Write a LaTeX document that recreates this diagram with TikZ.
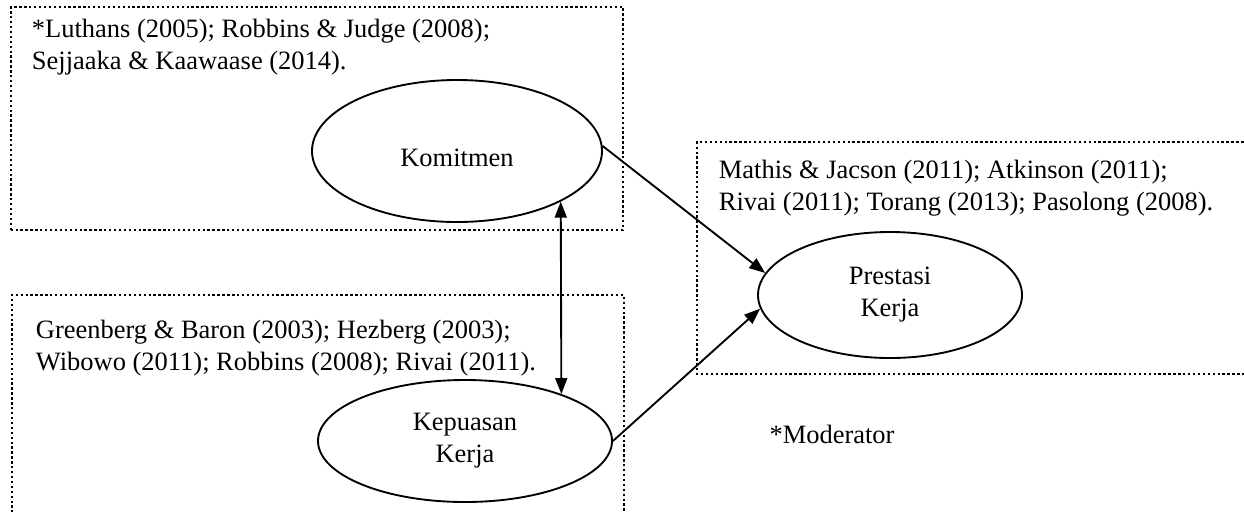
\documentclass[tikz,border=0pt]{standalone}
\usepackage{fontspec}
\setmainfont{Liberation Serif}
\usetikzlibrary{arrows.meta, shapes.geometric}

\begin{document}
\begin{tikzpicture}[>={Triangle[length=2.4mm, width=1.8mm]}, line width=0.8pt,
  font=\fontsize{11.3pt}{13.66pt}\selectfont,
  var/.style={ellipse, draw, align=center, inner sep=0pt},
  teks/.style={anchor=west, align=left, inner sep=0pt},
  kotak/.style={line width=1pt, dash pattern=on 1pt off 1.1pt}]
  \useasboundingbox (0,0) rectangle (18.66,7.665);
  % kotak bertitik
  \draw[kotak] (0.165,4.215) rectangle (9.345,7.56);
  \draw[kotak] (18.8,5.535) -- (10.455,5.535) -- (10.455,2.055) -- (18.8,2.055);
  \draw[kotak] (0.18,-0.1) -- (0.18,3.24) -- (9.36,3.24) -- (9.36,-0.1);
  % rujukan
  \node[teks] (refKom) at (0.465,6.96) {*Luthans (2005); Robbins \& Judge (2008);\\Sejjaaka \& Kaawaase (2014).};
  \node[teks] (refPres) at (10.77,4.84) {Mathis \& Jacson (2011); Atkinson (2011);\\Rivai (2011); Torang (2013); Pasolong (2008).};
  \node[teks] (refKep) at (0.525,2.44) {Greenberg \& Baron (2003); Hezberg (2003);\\Wibowo (2011); Robbins (2008); Rivai (2011).};
  % variabel
  \node[var, minimum width=4.35cm, minimum height=2.13cm, text height=0.47cm] (kom) at (6.855,5.4) {Komitmen};
  \node[var, minimum width=4.41cm, minimum height=1.83cm] (kep) at (6.975,1.05) {Kepuasan\\Kerja};
  \node[var, minimum width=3.96cm, minimum height=1.89cm] (pres) at (13.35,3.24) {Prestasi\\Kerja};
  \node (mod) at (12.48,1.155) {*Moderator};
  % panah
  \draw[->] (kom.2) -- (pres.170);
  \draw[->] (kep.east) -- (pres.186);
  \draw[<->] (kom.-26.3) -- (kep.26.5);
\end{tikzpicture}
\end{document}
